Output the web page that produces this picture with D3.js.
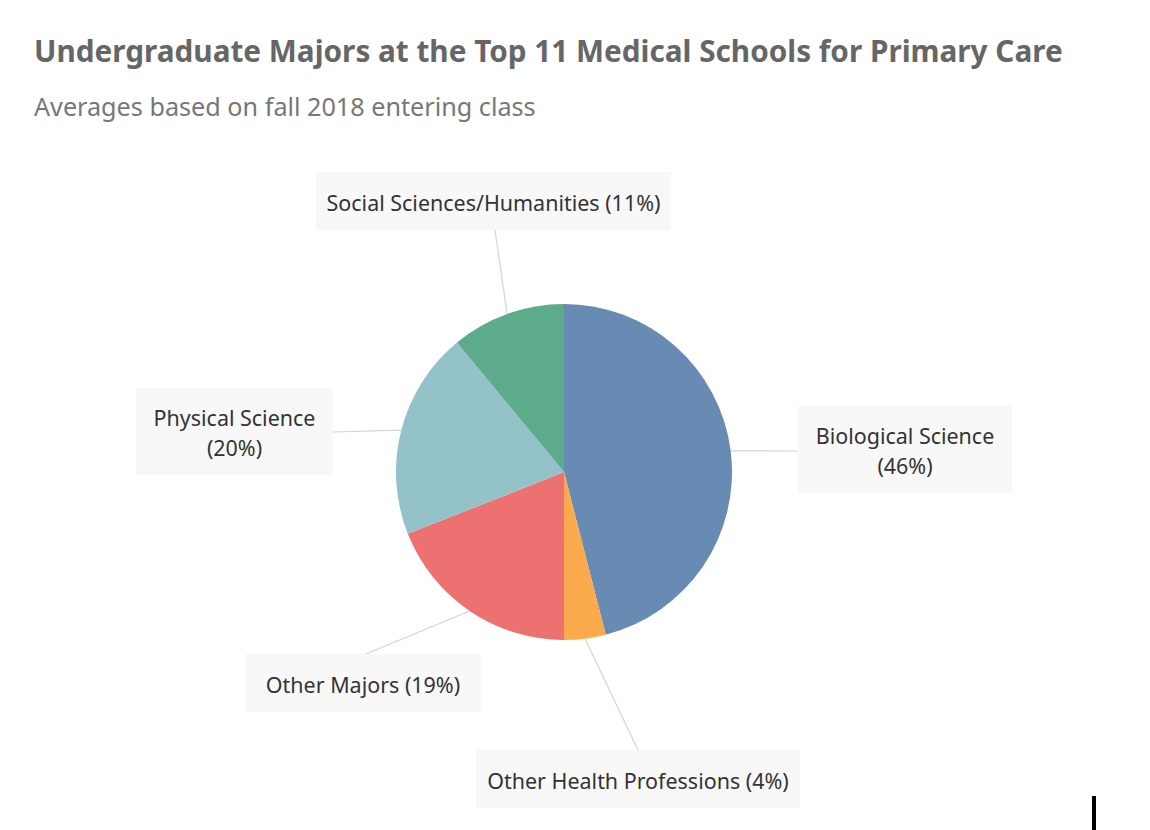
<!DOCTYPE html>
<html>
<head>
<meta charset="utf-8">
<script src="https://cdn.jsdelivr.net/npm/d3@7/dist/d3.min.js"></script>
<style>
  html, body { margin: 0; padding: 0; background: #fff; }
  svg { display: block; }
</style>
</head>
<body>
<svg id="chart" width="1150" height="830"></svg>
<script>
// ---- data ----
const categories = ["Biological Science", "Other Health Professions", "Other Majors", "Physical Science", "Social Sciences/Humanities"];
const values = [46, 4, 19, 20, 11];
const colors = ["#688bb3", "#fcaa4e", "#ec7170", "#93c2c8", "#5cab8a"];
const labelLines = [["Biological Science", "(46%)"], ["Other Health Professions (4%)"], ["Other Majors (19%)"], ["Physical Science", "(20%)"], ["Social Sciences/Humanities (11%)"]];

// ---- layout (not data) ----
const W = 1150, H = 830;
const cx = 564, cy = 472, R = 168;
const boxes = [
  {x: 798, y: 406, w: 214, h: 87, ax: 798, ay: 451},
  {x: 476, y: 750, w: 324, h: 58, ax: 638, ay: 750},
  {x: 245, y: 654, w: 236, h: 58, ax: 366, ay: 654},
  {x: 136, y: 388, w: 197, h: 87, ax: 333, ay: 432},
  {x: 316, y: 172, w: 355, h: 58, ax: 495, ay: 230}
];

const svg = d3.select("#chart");
const font = "'Noto Sans', 'Open Sans', sans-serif";

function fit(sel, base, target) {
  const w = sel.node().getComputedTextLength();
  const s = base * target / w;
  sel.attr("font-size", s);
  return s;
}

const title = svg.append("text")
  .attr("x", 34).attr("y", 62)
  .attr("font-family", font).attr("font-weight", "bold")
  .attr("font-size", 28).attr("fill", "#666")
  .text("Undergraduate Majors at the Top 11 Medical Schools for Primary Care");
fit(title, 28, 1029);

const sub = svg.append("text")
  .attr("x", 34).attr("y", 116)
  .attr("font-family", font)
  .attr("font-size", 23).attr("fill", "#777")
  .text("Averages based on fall 2018 entering class");
fit(sub, 23, 502);

const data = categories.map((c, i) => ({cat: c, value: values[i], color: colors[i], lines: labelLines[i], box: boxes[i]}));

const pie = d3.pie().value(d => d.value).sort(null);
const arcs = pie(data);
const arc = d3.arc().innerRadius(0).outerRadius(R);

// leader lines
arcs.forEach(a => {
  const mid = (a.startAngle + a.endAngle) / 2;
  const px = cx + R * Math.sin(mid), py = cy - R * Math.cos(mid);
  svg.append("line")
    .attr("x1", px).attr("y1", py)
    .attr("x2", a.data.box.ax).attr("y2", a.data.box.ay)
    .attr("stroke", "#d4d4d4").attr("stroke-width", 1.2);
});

const g = svg.append("g").attr("transform", `translate(${cx},${cy})`);
g.selectAll("path").data(arcs).join("path")
  .attr("d", arc)
  .attr("fill", d => d.data.color);

// measure label font size from the widest label
const probe = svg.append("text").attr("font-family", font).attr("font-size", 20)
  .text("Social Sciences/Humanities (11%)");
const labelSize = 20 * 334 / probe.node().getComputedTextLength();
probe.remove();

arcs.forEach(a => {
  const b = a.data.box;
  const lg = svg.append("g");
  lg.append("rect").attr("x", b.x).attr("y", b.y).attr("width", b.w).attr("height", b.h)
    .attr("fill", "#f8f8f8");
  const n = a.data.lines.length;
  const lh = 29.5;
  const midY = b.y + b.h / 2 + 2;
  a.data.lines.forEach((t, i) => {
    lg.append("text")
      .attr("x", b.x + b.w / 2)
      .attr("y", midY + (i - (n - 1) / 2) * lh)
      .attr("dy", "0.35em")
      .attr("text-anchor", "middle")
      .attr("font-family", font)
      .attr("font-size", labelSize).attr("fill", "#333")
      .text(t);
  });
});

// cursor mark seen in reference
svg.append("rect").attr("x", 1092).attr("y", 796).attr("width", 4).attr("height", 34).attr("fill", "#000");
</script>
</body>
</html>
